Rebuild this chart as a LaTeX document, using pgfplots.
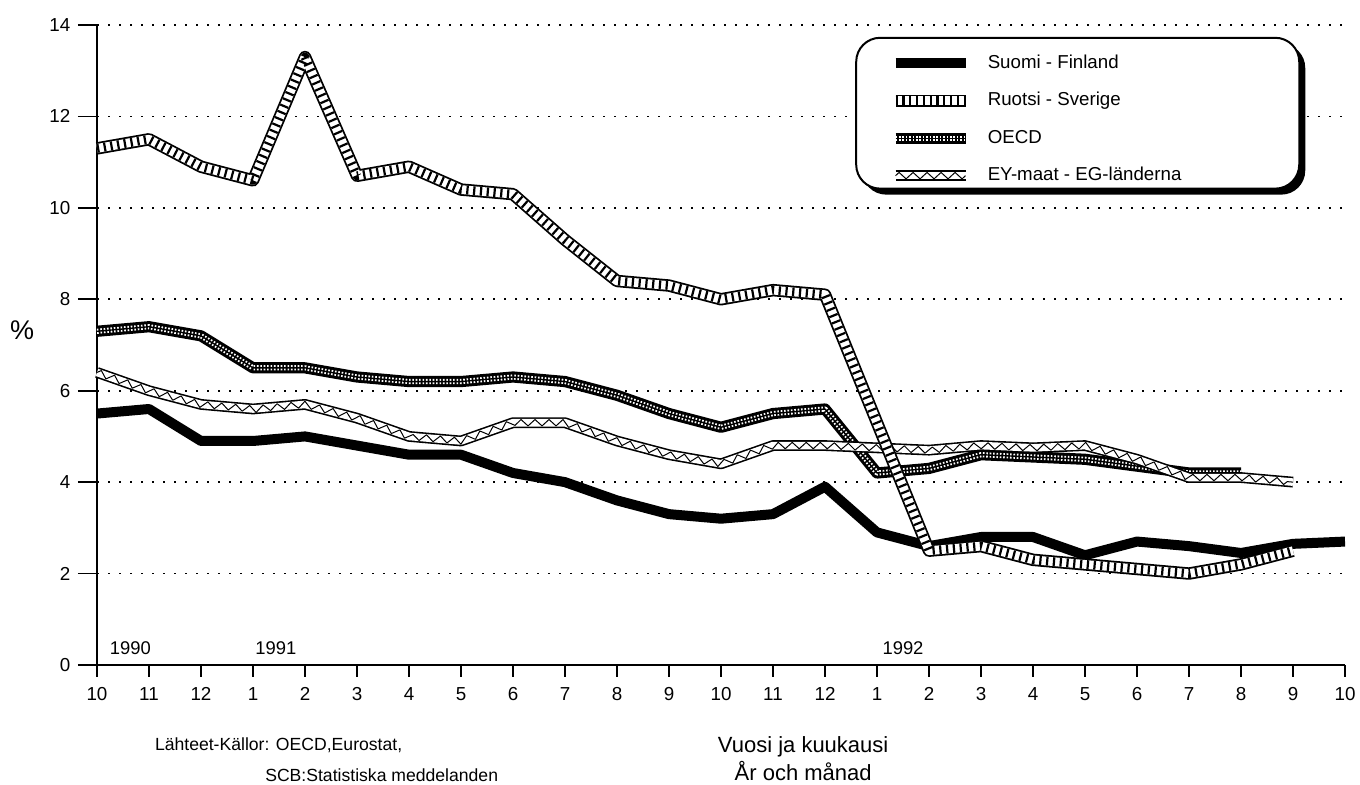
\documentclass[border=0pt]{standalone}
\usepackage{fontspec}
\setmainfont{Liberation Sans}
\usepackage{pgfplots}
\pgfplotsset{compat=1.18}
\usetikzlibrary{decorations.pathmorphing,shadows}

\tikzset{
 finst/.style={black, line width=5pt, line join=round},
 swest/.style={white, line width=4.4pt, line join=round,
   preaction={draw=black, line width=6.2pt},
   postaction={draw=black, line width=4.4pt, dash pattern=on 1.1pt off 2.3pt}},
 oecdst/.style={black, line width=5.6pt, line join=round,
   postaction={draw=white, line width=2.6pt, dash pattern=on 0.8pt off 0.9pt},
   postaction={draw=black, line width=0.7pt}},
 eyst/.style={white, line width=3.8pt, line join=round,
   preaction={draw=black, line width=5.4pt},
   postaction={draw=black, line width=0.5pt, decorate, decoration={zigzag, amplitude=1.6pt, segment length=7pt}}},
}

\begin{document}
\begin{tikzpicture}
\path[use as bounding box] (-48.5pt,-60pt) rectangle (631.5pt,332.5pt);
\begin{axis}[
 at={(0,0)}, anchor=south west,
 width=624pt, height=320pt, scale only axis,
 xmin=0, xmax=24, ymin=0, ymax=14,
 axis lines=left, axis line style={-, line width=0.8pt},
 xtick={0,...,24},
 xticklabels={10,11,12,1,2,3,4,5,6,7,8,9,10,11,12,1,2,3,4,5,6,7,8,9,10},
 ytick={0,2,...,14},
 tick align=outside,
 xtick style={black, line width=0.8pt, /pgfplots/major tick length=6pt},
 ytick style={black, line width=0.8pt, /pgfplots/major tick length=9.5pt},
 ymajorgrids,
 grid style={black, line width=0.9pt, dash pattern=on 0.9pt off 4.6pt},
 tick label style={font=\fontsize{9.4}{11}\selectfont},
 xticklabel style={yshift=-3.5pt},
 yticklabel style={xshift=-5.5pt},
 /pgf/number format/assume math mode=true,
 clip=false,
 legend style={at={(axis cs:15.23,13.36)}, anchor=north west, draw=none, fill=none,
   inner sep=0pt, row sep=9.9pt, column sep=8pt,
   font=\fontsize{9.35}{11}\selectfont,
   nodes={inner sep=0pt, text height=6.8pt, text depth=2pt},
   cells={anchor=west}},
 legend image code/.code={\draw[#1] (0pt,0pt) -- (35pt,0pt);},
]
% legend box
\draw[line width=1pt, rounded corners=12pt, fill=white,
  drop shadow={shadow xshift=3pt, shadow yshift=-3pt, fill=black, opacity=1}]
  (axis cs:14.6,13.72) rectangle (axis cs:23.12,10.42);
% x axis line extension to the left
\draw[line width=0.8pt] (axis cs:-0.33,0) -- (axis cs:0,0);

\addlegendimage{finst}\addlegendentry{Suomi - Finland}
\addlegendimage{swest}\addlegendentry{Ruotsi - Sverige}
\addlegendimage{oecdst}\addlegendentry{OECD}
\addlegendimage{eyst}\addlegendentry{EY-maat - EG-länderna}

% Suomi - Finland
\addplot[finst, forget plot] coordinates {
(0,5.5)(1,5.6)(2,4.9)(3,4.9)(4,5.0)(5,4.8)(6,4.6)(7,4.6)(8,4.2)(9,4.0)
(10,3.6)(11,3.3)(12,3.2)(13,3.3)(14,3.9)(15,2.9)(16,2.6)(17,2.8)(18,2.8)
(19,2.4)(20,2.7)(21,2.6)(22,2.45)(23,2.65)(24,2.7)};
% OECD
\addplot[oecdst, forget plot] coordinates {
(0,7.3)(1,7.4)(2,7.2)(3,6.5)(4,6.5)(5,6.3)(6,6.2)(7,6.2)(8,6.3)(9,6.2)
(10,5.9)(11,5.5)(12,5.2)(13,5.5)(14,5.6)(15,4.2)(16,4.3)(17,4.6)(18,4.55)
(19,4.5)(20,4.35)(21,4.2)(22,4.2)};
% EY-maat - EG-laenderna
\addplot[eyst, forget plot] coordinates {
(0,6.4)(1,6.0)(2,5.7)(3,5.6)(4,5.7)(5,5.4)(6,5.0)(7,4.9)(8,5.3)(9,5.3)
(10,4.9)(11,4.6)(12,4.4)(13,4.8)(14,4.8)(15,4.75)(16,4.7)(17,4.8)(18,4.75)
(19,4.8)(20,4.5)(21,4.1)(22,4.1)(23,4.0)};
% Ruotsi - Sverige
\addplot[swest, forget plot] coordinates {
(0,11.3)(1,11.5)(2,10.9)(3,10.6)(4,13.3)(5,10.7)(6,10.9)(7,10.4)(8,10.3)
(9,9.3)(10,8.4)(11,8.3)(12,8.0)(13,8.2)(14,8.1)(15,5.3)(16,2.5)(17,2.6)
(18,2.3)(19,2.2)(20,2.1)(21,2.0)(22,2.2)(23,2.5)};

\node[font=\fontsize{9.2}{11}\selectfont] at (axis cs:0.64,0.37) {1990};
\node[font=\fontsize{9.2}{11}\selectfont] at (axis cs:3.44,0.37) {1991};
\node[font=\fontsize{9.2}{11}\selectfont] at (axis cs:15.5,0.37) {1992};
\node[font=\fontsize{13.5}{15}\selectfont] at (axis cs:-1.44,7.33) {\%};
\node[anchor=west, font=\fontsize{8.8}{10}\selectfont] at (axis cs:0.98,-1.75) {Lähteet-Källor: OECD,Eurostat,};
\node[anchor=west, font=\fontsize{8.8}{10}\selectfont] at (axis cs:3.1,-2.41) {SCB:Statistiska meddelanden};
\node[align=center, font=\fontsize{11}{14}\selectfont] at (axis cs:13.58,-2.05) {Vuosi ja kuukausi\\År och månad};
\end{axis}
\end{tikzpicture}
\end{document}
